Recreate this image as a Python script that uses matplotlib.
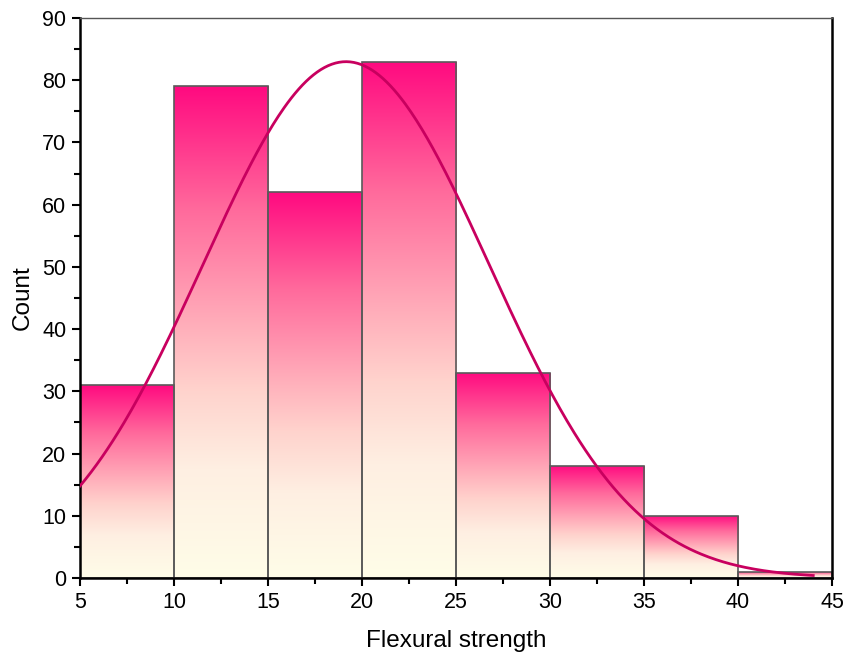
import numpy as np
import matplotlib
matplotlib.use("Agg")
import matplotlib.pyplot as plt
from matplotlib.colors import LinearSegmentedColormap
from matplotlib.patches import Rectangle
from matplotlib.ticker import MultipleLocator

plt.rcParams['font.family'] = ['Liberation Sans', 'DejaVu Sans']

# Data
bin_edges = [5, 10, 15, 20, 25, 30, 35, 40, 45]
counts = [31, 79, 62, 83, 33, 18, 10, 1]
# Normal fit of the distribution (as drawn)
fit_mean = 19.15
fit_sd = 7.62
fit_n = 317
fit_range = (5, 44)

fig = plt.figure(figsize=(8.46, 6.57), dpi=100)
ax = fig.add_axes([0.0946, 0.1202, 0.8889, 0.8524])

cmap = LinearSegmentedColormap.from_list(
    "pinkgrad", [(0.0, "#FFFDE8"), (0.22, "#FEEFE2"), (0.38, "#FFD3CD"),
                 (0.5, "#FFB2BC"), (0.75, "#FF6A9C"), (1.0, "#FF0A80")])
grad = np.linspace(0, 1, 256).reshape(-1, 1)

for i, c in enumerate(counts):
    x0, x1 = bin_edges[i], bin_edges[i + 1]
    im = ax.imshow(grad, cmap=cmap, aspect='auto', origin='lower',
                   extent=[x0, x1, 0, c], zorder=1, interpolation='bilinear')
    rect = Rectangle((x0, 0), x1 - x0, c, facecolor='none',
                     edgecolor='#5a5a5a', linewidth=1.2, zorder=2)
    ax.add_patch(rect)
    im.set_clip_path(rect)

bw = bin_edges[1] - bin_edges[0]
xs = np.linspace(fit_range[0], fit_range[1], 400)
ys = fit_n * bw * np.exp(-(xs - fit_mean) ** 2 / (2 * fit_sd ** 2)) / (fit_sd * np.sqrt(2 * np.pi))
ax.plot(xs, ys, color='#C8005F', linewidth=2.0, zorder=3)

ax.set_xlim(5, 45)
ax.set_ylim(0, 90)
ax.xaxis.set_major_locator(MultipleLocator(5))
ax.xaxis.set_minor_locator(MultipleLocator(2.5))
ax.yaxis.set_major_locator(MultipleLocator(10))
ax.yaxis.set_minor_locator(MultipleLocator(5))
ax.tick_params(which='major', direction='out', length=6, width=1.5,
               labelsize=15.5, top=False, right=False, pad=4)
ax.tick_params(which='minor', direction='out', length=4, width=1.5,
               top=False, right=False)

for s in ['left', 'bottom', 'right']:
    ax.spines[s].set_linewidth(1.8)
    ax.spines[s].set_color('black')
ax.spines['top'].set_linewidth(1.0)
ax.spines['top'].set_color('#555555')

ax.set_xlabel('Flexural strength', fontsize=17.5, labelpad=12)
ax.set_ylabel('Count', fontsize=17.5, labelpad=6)

fig.savefig('out.png', dpi=100)
